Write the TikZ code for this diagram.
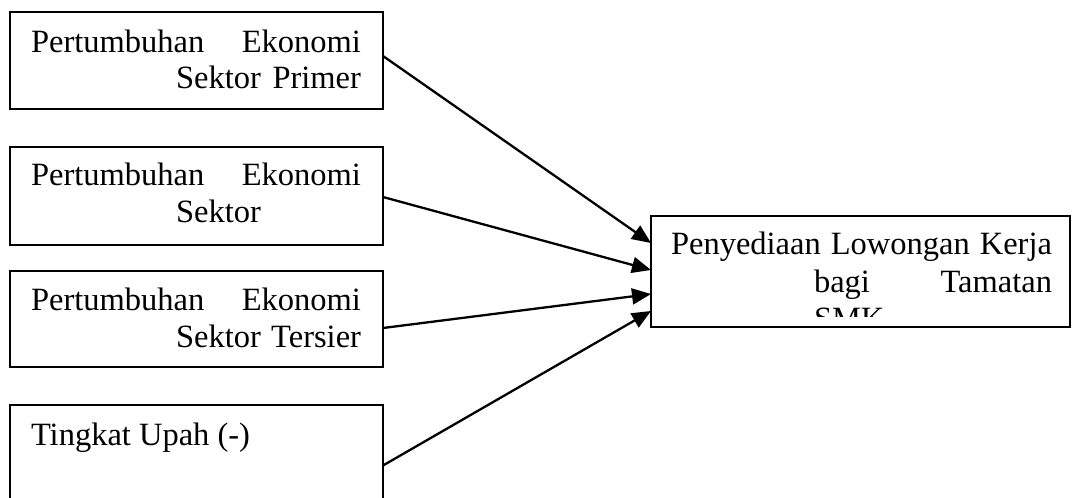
\documentclass[tikz,border=0pt]{standalone}
\usepackage{fontspec}
\setmainfont{Liberation Serif}
\usetikzlibrary{arrows.meta}
\tikzset{
  box/.style={draw=black, line width=1.6pt, rectangle, anchor=north west, inner sep=0pt, outer sep=0pt},
  txt/.style={anchor=base west, inner sep=0pt, outer sep=0pt, font=\fontsize{32.5}{36}\selectfont},
  link/.style={draw=black, line width=2.3pt, -{Triangle[length=19pt, width=16pt]}, shorten >=0pt}
}
\begin{document}
\begin{tikzpicture}[x=1pt, y=-1pt]
\useasboundingbox (0,0) rectangle (1074,498);
\clip (0,0) rectangle (1074,498);
\fill[white] (0,0) rectangle (1074,498);
% boxes
\node[box, minimum width=373pt, minimum height=97pt] (b1) at (10,12) {};
\node[box, minimum width=373pt, minimum height=98pt] (b2) at (10,147) {};
\node[box, minimum width=373pt, minimum height=96pt] (b3) at (10,271) {};
\node[box, minimum width=373pt, minimum height=115pt] (b4) at (10,405) {};
\node[box, minimum width=419pt, minimum height=111pt] (b5) at (651,216) {};
% texts
\node[txt] (t1a) at (31,52) {\makebox[330pt][s]{Pertumbuhan\hfill Ekonomi}};
\node[txt] (t1b) at (176,88) {\makebox[185pt][s]{Sektor\hfill Primer}};
\node[txt] (t2a) at (31,185) {\makebox[330pt][s]{Pertumbuhan\hfill Ekonomi}};
\node[txt] (t2b) at (176,222) {Sektor};
\node[txt] (t3a) at (31,310) {\makebox[330pt][s]{Pertumbuhan\hfill Ekonomi}};
\node[txt] (t3b) at (176,347) {\makebox[185pt][s]{Sektor\hfill Tersier}};
\node[txt] (t4a) at (31,445) {Tingkat Upah (-)};
\node[txt] (t5a) at (671,254) {\makebox[381pt][s]{Penyediaan\hfill Lowongan\hfill Kerja}};
\node[txt] (t5b) at (814,292) {\makebox[238pt][s]{bagi\hfill Tamatan}};
\begin{scope}
\clip (651,216) rectangle (1070,316);
\node[txt] (t5c) at (814,329) {SMK};
\end{scope}
% connectors
\draw[link] ([yshift=4.5pt]b1.east) -- ([yshift=28.5pt]b5.west);
\draw[link] ([yshift=-1pt]b2.east) -- ([yshift=1.5pt]b5.west);
\draw[link] ([yshift=-9pt]b3.east) -- ([yshift=-22.5pt]b5.west);
\draw[link] ([yshift=-3pt]b4.east) -- ([yshift=-39.5pt]b5.west);
\end{tikzpicture}
\end{document}
